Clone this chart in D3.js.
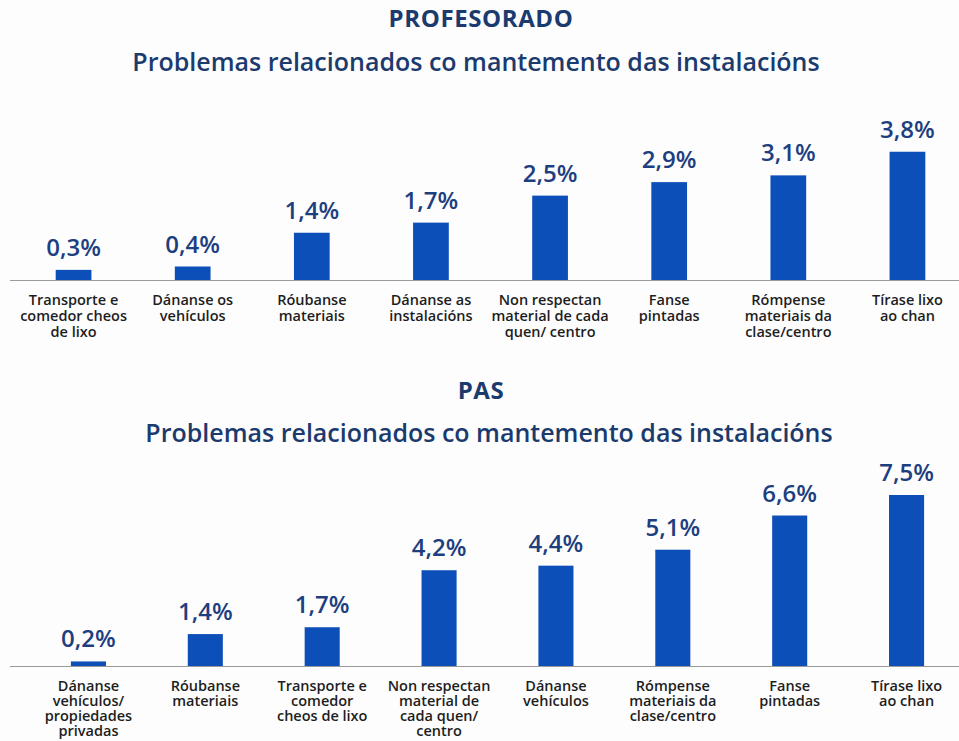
<!DOCTYPE html>
<html>
<head>
<meta charset="utf-8">
<script src="https://cdn.jsdelivr.net/npm/d3@7"></script>
<style>
  body { margin: 0; background: #fdfdfd; }
  svg { display: block; font-family: 'Open Sans', 'Noto Sans', sans-serif; }
  .title { font-weight: 700; fill: #1b3a6e; text-anchor: middle; }
  .value { font-weight: 600; fill: #1d3f80; font-size: 24px; text-anchor: middle; }
  .cat text { font-family: 'Open Sans', 'Noto Sans', sans-serif; font-weight: 600; fill: #1e1e1e; font-size: 14.5px; }
  .bar { fill: #0d4fb8; }
</style>
</head>
<body>
<svg class="chart" width="959" height="741"></svg>
<script>
// PROFESORADO
const profCategories = [
  'Transporte e\ncomedor cheos\nde lixo',
  'Dánanse os\nvehículos',
  'Róubanse\nmateriais',
  'Dánanse as\ninstalacións',
  'Non respectan\nmaterial de cada\nquen/ centro',
  'Fanse\npintadas',
  'Rómpense\nmateriais da\nclase/centro',
  'Tírase lixo\nao chan'
];
const profValues = [0.3, 0.4, 1.4, 1.7, 2.5, 2.9, 3.1, 3.8];

// PAS
const pasCategories = [
  'Dánanse\nvehículos/\npropiedades\nprivadas',
  'Róubanse\nmateriais',
  'Transporte e\ncomedor\ncheos de lixo',
  'Non respectan\nmaterial de\ncada quen/\ncentro',
  'Dánanse\nvehículos',
  'Rómpense\nmateriais da\nclase/centro',
  'Fanse\npintadas',
  'Tírase lixo\nao chan'
];
const pasValues = [0.2, 1.4, 1.7, 4.2, 4.4, 5.1, 6.6, 7.5];

const svg = d3.select('.chart');

function barChart(opts) {
  const { cats, values, xRange, base, yMax, yTop, heading, sub, lineGap } = opts;
  const g = svg.append('g');

  // headings
  g.append('text').classed('title', true)
    .attr('x', 481).attr('y', heading[1])
    .style('font-size', '24px')
    .style('letter-spacing', '0.6px')
    .text(heading[0]);
  g.append('text').classed('title', true)
    .attr('x', sub[2]).attr('y', sub[1])
    .style('font-size', '25px')
    .style('font-weight', 600)
    .text(sub[0]);

  const x = d3.scaleBand()
    .domain(cats)
    .range(xRange)
    .paddingInner(0.7)
    .paddingOuter(0.35);

  const y = d3.scaleLinear().domain([0, yMax]).range([base, yTop]);

  // baseline
  g.append('line')
    .attr('x1', 10).attr('x2', 959)
    .attr('y1', base + 0.5).attr('y2', base + 0.5)
    .attr('stroke', '#9a9a9a').attr('stroke-width', 1.2);

  const data = cats.map((c, i) => ({ cat: c, value: values[i] }));

  g.selectAll('.bar')
    .data(data)
    .enter()
    .append('rect')
    .classed('bar', true)
    .attr('x', (d) => x(d.cat))
    .attr('width', x.bandwidth())
    .attr('y', (d) => y(d.value))
    .attr('height', (d) => base - y(d.value));

  g.selectAll('.value')
    .data(data)
    .enter()
    .append('text')
    .classed('value', true)
    .attr('x', (d) => x(d.cat) + x.bandwidth() / 2)
    .attr('y', (d) => y(d.value) - 14)
    .text((d) => d3.format('.1f')(d.value).replace('.', ',') + '%');

  // category labels via axis, split into lines
  const axis = g.append('g')
    .classed('cat', true)
    .attr('transform', `translate(0,${base})`)
    .call(d3.axisBottom(x).tickSize(0).tickPadding(0));
  axis.select('.domain').remove();
  axis.selectAll('.tick text')
    .attr('y', 0)
    .attr('dy', null)
    .each(function (d) {
      const t = d3.select(this).text('');
      d.split('\n').forEach((line, i) => {
        t.append('tspan')
          .attr('x', 0)
          .attr('y', 25 + i * lineGap)
          .text(line);
      });
    });
}

barChart({
  cats: profCategories,
  values: profValues,
  xRange: [14, 967],
  base: 280,
  yMax: 4,
  yTop: 145,
  lineGap: 16,
  heading: ['PROFESORADO', 27],
  sub: ['Problemas relacionados co mantemento das instalacións', 71, 476]
});

barChart({
  cats: pasCategories,
  values: pasValues,
  xRange: [30, 965],
  base: 666,
  yMax: 8,
  yTop: 483.6,
  lineGap: 15,
  heading: ['PAS', 399],
  sub: ['Problemas relacionados co mantemento das instalacións', 442, 489]
});
</script>
</body>
</html>
